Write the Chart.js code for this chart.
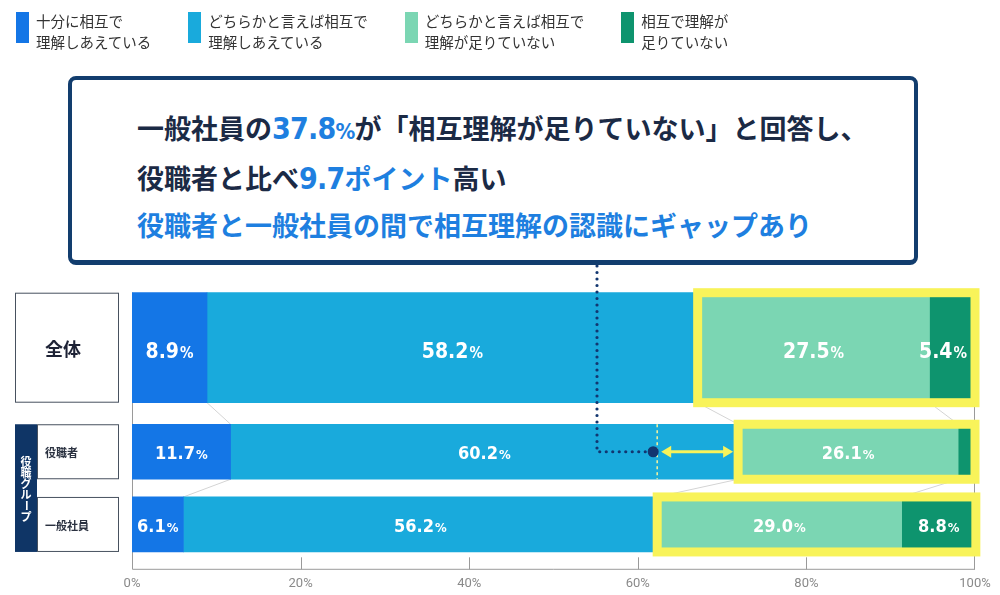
<!DOCTYPE html>
<html lang="ja">
<head>
<meta charset="utf-8">
<title>相互理解の認識</title>
<script src="https://cdn.jsdelivr.net/npm/chart.js@4.4.1/dist/chart.umd.min.js"></script>
<style>
    body { margin: 0; background: #fff; font-family: "Noto Sans CJK JP", sans-serif; }
    #wrap { position: relative; width: 1000px; height: 595px; overflow: hidden; }
    #chartBox { position: absolute; left: 0; top: 0; width: 1000px; height: 595px; }
    #legend { position: absolute; left: 16px; top: 10px; display: flex; }
    .lg-item { display: flex; align-items: flex-start; margin-right: 37px; }
    .lg-sw { width: 13px; height: 31px; margin: 2px 7px 0 0; }
    .lg-txt { font-size: 14.5px; line-height: 21px; color: #333; white-space: pre; }
    #callout {
        position: absolute; left: 68px; top: 76px; width: 850px; height: 189px;
        box-sizing: border-box; border: 4px solid #123d6e; border-bottom-width: 5px;
        border-radius: 8px; background: #fff; padding: 25px 0 0 65px;
    }
    .co-line { font-size: 27px; font-weight: bold; line-height: 46px; color: #1b2a45; white-space: nowrap; }
    .co-num { font-family: "DejaVu Sans Condensed", sans-serif; font-size: 30px; letter-spacing: -0.8px; color: #1e7fe0; }
    .co-num small { font-size: 22px; }
    .blue { color: #1e7fe0; }
</style>
</head>
<body>
<div id="wrap">
    <div id="chartBox"><canvas id="gapChart"></canvas></div>
    <div id="legend"></div>
    <div id="callout">
        <div class="co-line">一般社員の<span class="co-num">37.8<small>%</small></span>が「相互理解が足りていない」と回答し、</div>
        <div class="co-line">役職者と比べ<span class="co-num">9.7</span><span class="blue">ポイント</span>高い</div>
        <div class="co-line blue">役職者と一般社員の間で相互理解の認識にギャップあり</div>
    </div>
</div>
<script>
const rows = ['全体', '役職者', '一般社員'];
const groupTitle = '役職グループ';
const seriesNames = [
    '十分に相互で\n理解しあえている',
    'どちらかと言えば相互で\n理解しあえている',
    'どちらかと言えば相互で\n理解が足りていない',
    '相互で理解が\n足りていない'
];
const seriesColors = ['#1476e6', '#19aadc', '#7bd6b3', '#0e946e'];

// 値は 全体 / 役職者 / 一般社員 の順
const fullyUnderstand = [8.9, 11.7, 6.1];
const somewhatUnderstand = [58.2, 60.2, 56.2];
const somewhatLacking = [27.5, 26.1, 29.0];
const lacking = [5.4, 2.0, 8.8];
const xTicks = [0, 20, 40, 60, 80, 100];

const seriesValues = [fullyUnderstand, somewhatUnderstand, somewhatLacking, lacking];

// legend
const legendEl = document.getElementById('legend');
seriesNames.forEach((name, i) => {
    const item = document.createElement('div');
    item.className = 'lg-item';
    item.innerHTML = `<div class="lg-sw" style="background:${seriesColors[i]}"></div><div class="lg-txt">${name}</div>`;
    legendEl.appendChild(item);
});

// 全体 is thicker than the two group rows
const datasets = [];
seriesValues.forEach((vals, i) => {
    datasets.push({
        label: seriesNames[i], data: [vals[0]], yAxisID: 'yAll', grouped: false,
        backgroundColor: seriesColors[i], borderWidth: 0, barThickness: 110, maxBarThickness: 110
    });
});
seriesValues.forEach((vals, i) => {
    datasets.push({
        label: seriesNames[i], data: vals.slice(1), yAxisID: 'yGroup', grouped: false,
        backgroundColor: seriesColors[i], borderWidth: 0, barThickness: 55, maxBarThickness: 55
    });
});

function rowBars(chart) {
    const out = [[], [], []];
    for (let i = 0; i < 4; i++) {
        out[0].push(chart.getDatasetMeta(i).data[0]);
        out[1].push(chart.getDatasetMeta(i + 4).data[0]);
        out[2].push(chart.getDatasetMeta(i + 4).data[1]);
    }
    return out;
}

function drawDoubleArrow(ctx, x1, x2, y, color) {
    const head = 10, half = 6;
    ctx.save();
    ctx.strokeStyle = color;
    ctx.fillStyle = color;
    ctx.lineWidth = 3;
    ctx.beginPath();
    ctx.moveTo(x1 + head - 1, y);
    ctx.lineTo(x2 - head + 1, y);
    ctx.stroke();
    ctx.beginPath();
    ctx.moveTo(x1, y); ctx.lineTo(x1 + head, y - half); ctx.lineTo(x1 + head, y + half);
    ctx.closePath(); ctx.fill();
    ctx.beginPath();
    ctx.moveTo(x2, y); ctx.lineTo(x2 - head, y - half); ctx.lineTo(x2 - head, y + half);
    ctx.closePath(); ctx.fill();
    ctx.restore();
}

const CONNECTOR_X = 597;
const CALLOUT_BOTTOM = 266;

const decorPlugin = {
    id: 'decor',
    beforeDatasetsDraw(chart) {
        const ctx = chart.ctx;
        const area = chart.chartArea;
        const xScale = chart.scales.x;
        const bars = rowBars(chart);
        const axisY = area.bottom + 8.5;
        const r0 = bars[0][0];

        ctx.save();
        // frame lines and axis
        ctx.strokeStyle = '#9a9a9a';
        ctx.lineWidth = 1;
        ctx.beginPath();
        ctx.moveTo(area.left + 0.5, r0.y - r0.height / 2);
        ctx.lineTo(area.left + 0.5, axisY);
        ctx.lineTo(area.right, axisY);
        ctx.moveTo(area.right - 0.5, r0.y + r0.height / 2);
        ctx.lineTo(area.right - 0.5, axisY);
        xTicks.slice(1, -1).forEach(v => {
            const px = Math.round(xScale.getPixelForValue(v)) + 0.5;
            ctx.moveTo(px, axisY);
            ctx.lineTo(px, axisY - 12);
        });
        ctx.stroke();

        // faint connecting lines between rows
        ctx.strokeStyle = '#d4d4d4';
        ctx.beginPath();
        for (let r = 0; r < 2; r++) {
            for (let k = 0; k < 3; k++) {
                const a = bars[r][k], b = bars[r + 1][k];
                ctx.moveTo(a.x, a.y + a.height / 2);
                ctx.lineTo(b.x, b.y - b.height / 2);
            }
        }
        ctx.stroke();

        // left row labels
        const font = '"Noto Sans CJK JP", sans-serif';
        ctx.strokeStyle = '#47515f';
        ctx.lineWidth = 1;
        ctx.strokeRect(15.5, r0.y - r0.height / 2 + 0.5, 103, r0.height - 1);
        ctx.fillStyle = '#1d2235';
        ctx.font = `bold 18px ${font}`;
        ctx.textAlign = 'center';
        ctx.textBaseline = 'middle';
        ctx.fillText(rows[0], 63, r0.y + 1);

        const g1 = bars[1][0], g2 = bars[2][0];
        const gTop = g1.y - g1.height / 2, gBottom = g2.y + g2.height / 2;
        ctx.fillStyle = '#0f3566';
        ctx.fillRect(15, gTop, 22, gBottom - gTop);
        [g1, g2].forEach((g, i) => {
            ctx.strokeRect(37.5, g.y - g.height / 2 + 0.5, 81, g.height - 1);
            ctx.fillStyle = '#2a3140';
            ctx.font = `bold 11px ${font}`;
            ctx.textAlign = 'left';
            ctx.fillText(rows[i + 1], 45, g.y + 1);
        });

        // vertical group title
        ctx.fillStyle = '#fff';
        ctx.font = `bold 11px ${font}`;
        ctx.textAlign = 'center';
        const chars = Array.from(groupTitle);
        const step = 11;
        let cy = (gTop + gBottom) / 2 - (chars.length - 1) * step / 2 + 1;
        chars.forEach(ch => {
            if (ch === 'ー') {
                ctx.save();
                ctx.translate(26, cy);
                ctx.rotate(Math.PI / 2);
                ctx.fillText(ch, 0, 0);
                ctx.restore();
            } else {
                ctx.fillText(ch, 26, cy);
            }
            cy += step;
        });
        ctx.restore();
    },
    afterDatasetsDraw(chart) {
        const ctx = chart.ctx;
        const bars = rowBars(chart);
        ctx.save();

        // yellow highlight boxes
        ctx.strokeStyle = '#f8f35a';
        ctx.lineWidth = 9;
        bars.forEach(row => {
            const left = row[2].base, right = row[3].x;
            const top = row[2].y - row[2].height / 2;
            ctx.strokeRect(left, top, right - left, row[2].height);
        });

        // value labels
        const numFont = '"DejaVu Sans Condensed", sans-serif';
        ctx.fillStyle = '#fff';
        ctx.textBaseline = 'alphabetic';
        ctx.textAlign = 'left';
        bars.forEach((row, r) => {
            const big = r === 0 ? 21 : 18;
            const small = r === 0 ? 15 : 13;
            row.forEach((el, k) => {
                const v = seriesValues[k][r];
                if (v < 3) return;
                const num = v.toFixed(1);
                ctx.font = `bold ${big}px ${numFont}`;
                const w1 = ctx.measureText(num).width;
                ctx.font = `bold ${small}px ${numFont}`;
                const w2 = ctx.measureText('%').width;
                const w = w1 + w2 + 1;
                let x0 = (el.base + el.x) / 2 - w / 2;
                if (w > el.x - el.base - 8) x0 = el.x - 8 - w;
                const by = el.y + big * 0.37 + (r === 0 ? 3 : 1);
                ctx.font = `bold ${big}px ${numFont}`;
                ctx.fillText(num, x0, by);
                ctx.font = `bold ${small}px ${numFont}`;
                ctx.fillText('%', x0 + w1 + 1, by);
            });
        });

        // gap marker between 役職者 and 一般社員
        const target = bars[1][2];
        const gapX = bars[2][1].x;
        const rowY = target.y;
        ctx.strokeStyle = '#fff59a';
        ctx.lineWidth = 1.5;
        ctx.setLineDash([3, 3]);
        ctx.beginPath();
        ctx.moveTo(gapX, target.y - target.height / 2);
        ctx.lineTo(gapX, target.y + target.height / 2);
        ctx.stroke();
        ctx.setLineDash([]);
        drawDoubleArrow(ctx, gapX + 4, target.base - 5, rowY, '#f8f35a');

        // dotted connector from the callout
        const dotX = gapX - 4;
        ctx.strokeStyle = '#123670';
        ctx.lineWidth = 3.2;
        ctx.lineCap = 'round';
        ctx.setLineDash([0, 6.5]);
        ctx.beginPath();
        ctx.moveTo(CONNECTOR_X, CALLOUT_BOTTOM);
        ctx.lineTo(CONNECTOR_X, rowY);
        ctx.lineTo(dotX - 7, rowY);
        ctx.stroke();
        ctx.setLineDash([]);
        ctx.fillStyle = '#123670';
        ctx.beginPath();
        ctx.arc(dotX, rowY, 5.5, 0, Math.PI * 2);
        ctx.fill();
        ctx.restore();
    }
};

const chart = new Chart(document.getElementById('gapChart').getContext('2d'), {
    type: 'bar',
    data: { datasets: datasets },
    options: {
        indexAxis: 'y',
        responsive: true,
        maintainAspectRatio: false,
        animation: false,
        layout: { padding: { top: 280, left: 132, right: 25, bottom: 0 } },
        plugins: { legend: { display: false }, tooltip: { enabled: false } },
        scales: {
            x: {
                type: 'linear', stacked: true, min: 0, max: 100,
                // tick marks are drawn by the plugin; tickLength only pushes the labels down
                grid: { display: false, drawTicks: true, tickLength: 15 },
                border: { display: false },
                afterBuildTicks: scale => { scale.ticks = xTicks.map(v => ({ value: v })); },
                afterFit: scale => { scale.height = 34.2; },
                ticks: {
                    callback: v => v + '%',
                    color: '#8a8a8a',
                    font: { family: 'Roboto', size: 13 },
                    padding: 0,
                    maxRotation: 0
                }
            },
            yAll: {
                type: 'category', labels: [rows[0]], stacked: true, position: 'left',
                stack: 'rows', stackWeight: 135.4, weight: 1, display: false, offset: true
            },
            yGroup: {
                type: 'category', labels: rows.slice(1), stacked: true, position: 'left',
                stack: 'rows', stackWeight: 145.4, weight: 0, display: false, offset: true
            }
        }
    },
    plugins: [decorPlugin]
});
</script>
</body>
</html>
